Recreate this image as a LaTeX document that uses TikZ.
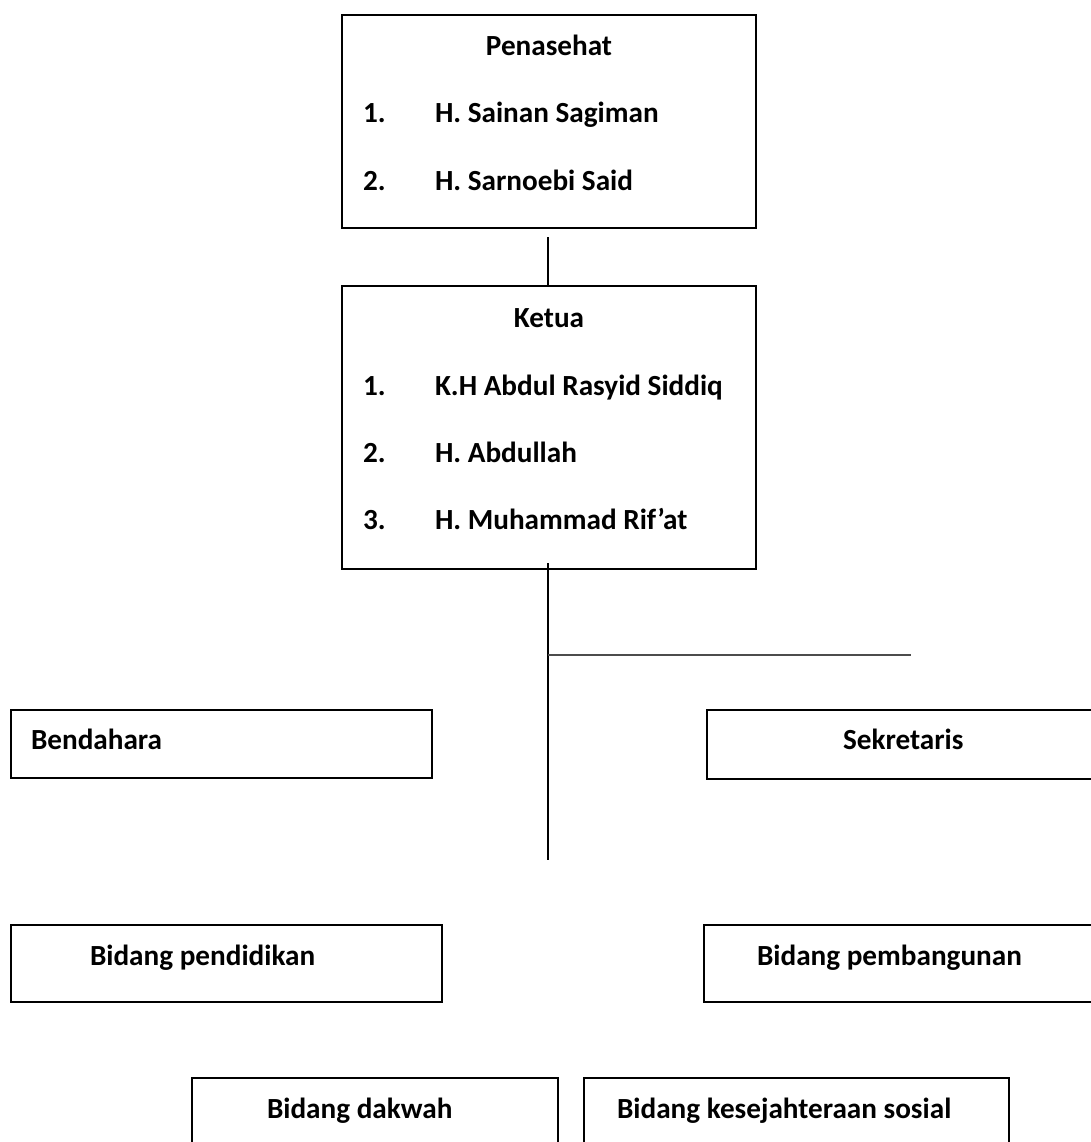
\documentclass[tikz,border=0pt]{standalone}
\usepackage{fontspec}
\setmainfont{Carlito}
\begin{document}
\begin{tikzpicture}[x=1pt,y=-1pt,
  box/.style={draw=black, line width=1.7pt, rectangle, inner sep=0pt, outer sep=0pt, anchor=north west},
  txt/.style={font=\fontsize{29.2}{35}\selectfont\bfseries, inner sep=0pt, outer sep=0pt, text=black},
  conn/.style={draw=black, line width=1.2pt},
  hconn/.style={draw=black!70, line width=1.6pt}]
\useasboundingbox (0,0) rectangle (1091,1142);
\clip (0,0) rectangle (1091,1142);
% boxes
\node[box, minimum width=414pt, minimum height=213pt] (pen) at (342,15) {};
\node[box, minimum width=414pt, minimum height=283pt] (ket) at (342,286) {};
\node[box, minimum width=421pt, minimum height=68pt] (bend) at (11,710) {};
\node[box, minimum width=400pt, minimum height=69pt] (sek) at (707,710) {};
\node[box, minimum width=431pt, minimum height=77pt] (pend) at (11,925) {};
\node[box, minimum width=400pt, minimum height=77pt] (pemb) at (704,925) {};
\node[box, minimum width=366pt, minimum height=90pt] (dak) at (192,1078) {};
\node[box, minimum width=425pt, minimum height=90pt] (kes) at (584,1078) {};
% texts in Penasehat
\node[txt, anchor=base] (pent) at (549,56) {Penasehat};
\node[txt, anchor=base west] (pen1n) at (363,123) {1.};
\node[txt, anchor=base west] (pen1) at (435,123) {H. Sainan Sagiman};
\node[txt, anchor=base west] (pen2n) at (363,190) {2.};
\node[txt, anchor=base west] (pen2) at (435,190) {H. Sarnoebi Said};
% texts in Ketua
\node[txt, anchor=base] (ket0) at (549,327) {Ketua};
\node[txt, anchor=base west] (ket1n) at (363,395) {1.};
\node[txt, anchor=base west] (ket1) at (435,395) {K.H Abdul Rasyid Siddiq};
\node[txt, anchor=base west] (ket2n) at (363,462) {2.};
\node[txt, anchor=base west] (ket2) at (435,462) {H. Abdullah};
\node[txt, anchor=base west] (ket3n) at (363,529) {3.};
\node[txt, anchor=base west] (ket3) at (435,529) {H. Muhammad Rif’at};
% other texts
\node[txt, anchor=base west] (bendt) at (31,749) {Bendahara};
\node[txt, anchor=base west] (sekt) at (843,749) {Sekretaris};
\node[txt, anchor=base west] (pendt) at (90,965) {Bidang pendidikan};
\node[txt, anchor=base west] (pembt) at (757,965) {Bidang pembangunan};
\node[txt, anchor=base west] (dakt) at (267,1118) {Bidang dakwah};
\node[txt, anchor=base west] (kest) at (617,1118) {Bidang kesejahteraan sosial};
% connectors
\coordinate (stem) at (548,860);
\coordinate (hr) at (911,655);
\draw[conn, shorten <=9pt] (pen.south -| stem) -- (ket.north -| stem);
\draw[conn, shorten <=-6pt] (ket.south -| stem) -- (stem);
\draw[hconn] (stem |- hr) -- (hr);
\end{tikzpicture}
\end{document}
